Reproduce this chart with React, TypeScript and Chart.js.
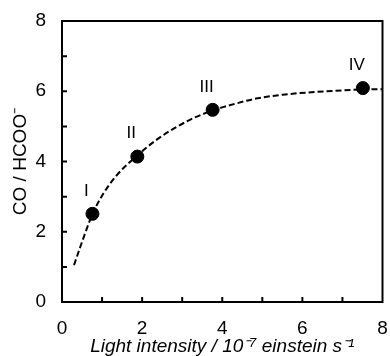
import React, { useEffect, useRef } from "react";
import { Chart, registerables } from "chart.js";

Chart.register(...registerables);

const pointX = [0.76, 1.88, 3.76, 7.51];
const pointY = [2.51, 4.14, 5.47, 6.09];
const pointLabels = ["I", "II", "III", "IV"];

const curveX = [0.3, 0.46, 0.76, 1.03, 1.36, 1.88, 2.4, 3.18, 3.76, 4.34, 4.88, 5.5, 6.33, 7.5, 8.0];
const curveY = [1.05, 1.58, 2.5, 3.08, 3.6, 4.17, 4.65, 5.18, 5.45, 5.65, 5.8, 5.9, 5.98, 6.05, 6.06];

const xTitle = "Light intensity / 10\u207B\u2077 einstein s\u207B\u00B9";
const yTitle = "CO / HCOO\u207B";
const axisMin = 0;
const axisMax = 8;

const FONT = "'Liberation Sans', Arial, sans-serif";

const framePlugin = {
  id: "frame",
  afterDraw(chart: any) {
    const { ctx, chartArea, scales } = chart;
    const { left, right, top, bottom } = chartArea;
    ctx.save();
    ctx.strokeStyle = "#000";
    ctx.lineWidth = 2;
    ctx.beginPath();
    for (let v = axisMin + 1; v < axisMax; v++) {
      const y = scales.y.getPixelForValue(v);
      ctx.moveTo(left, y);
      ctx.lineTo(left + 5, y);
      const x = scales.x.getPixelForValue(v);
      ctx.moveTo(x, bottom);
      ctx.lineTo(x, bottom - 5);
    }
    ctx.stroke();
    ctx.strokeRect(left, top, right - left, bottom - top);
    ctx.restore();
  },
  afterDatasetsDraw(chart: any) {
    const { ctx } = chart;
    const meta = chart.getDatasetMeta(0);
    ctx.save();
    ctx.fillStyle = "#000";
    ctx.font = `17px ${FONT}`;
    ctx.textAlign = "center";
    ctx.textBaseline = "middle";
    meta.data.forEach((el: any, i: number) => {
      ctx.fillText(pointLabels[i], el.x - 6, el.y - 23);
    });
    ctx.restore();
  },
};

export default function App() {
  const ref = useRef<HTMLCanvasElement>(null);
  useEffect(() => {
    if (!ref.current) return;
    const chart = new Chart(ref.current, {
      type: "scatter",
      data: {
        datasets: [
          {
            data: pointX.map((x, i) => ({ x, y: pointY[i] })),
            backgroundColor: "#000",
            borderColor: "#000",
            pointRadius: 6.5,
            showLine: false,
          },
          {
            data: curveX.map((x, i) => ({ x, y: curveY[i] })),
            showLine: true,
            borderColor: "#000",
            borderWidth: 2,
            borderDash: [6, 3],
            pointRadius: 0,
            cubicInterpolationMode: "monotone",
            fill: false,
          },
        ],
      },
      options: {
        animation: false,
        responsive: false,
        layout: { padding: { left: 0, right: 6, top: 21, bottom: 0 } },
        plugins: { legend: { display: false }, tooltip: { enabled: false } },
        scales: {
          x: {
            type: "linear",
            min: axisMin,
            max: axisMax,
            grid: { display: false, drawTicks: false },
            border: { display: false },
            ticks: {
              stepSize: 1,
              padding: 15,
              color: "#000",
              font: { family: FONT, size: 19 },
              maxRotation: 0,
              callback: (v: any) => (Number(v) % 2 === 0 ? String(v) : ""),
            },
            title: {
              display: true,
              text: xTitle,
              color: "#000",
              font: { family: FONT, size: 19, style: "italic" },
              padding: { top: 0, bottom: -2 },
            },
            afterFit: (s: any) => {
              s.height = 54;
              s.paddingLeft = 0;
              s.paddingRight = 0;
            },
          },
          y: {
            type: "linear",
            min: axisMin,
            max: axisMax,
            grid: { display: false, drawTicks: false },
            border: { display: false },
            ticks: {
              stepSize: 1,
              padding: 16,
              color: "#000",
              font: { family: FONT, size: 19 },
              callback: (v: any) => (Number(v) % 2 === 0 ? String(v) : ""),
            },
            title: {
              display: true,
              text: yTitle,
              color: "#000",
              font: { family: FONT, size: 19 },
              padding: { top: 9, bottom: 0 },
            },
            afterFit: (s: any) => {
              s.width = 62;
              s.paddingTop = 0;
              s.paddingBottom = 0;
            },
          },
        },
      },
      plugins: [framePlugin],
    } as any);
    return () => chart.destroy();
  }, []);
  return (
    <div style={{ position: "fixed", left: 0, top: 0, width: 390, height: 356, background: "#fff" }}>
      <canvas ref={ref} width={390} height={356} />
    </div>
  );
}
